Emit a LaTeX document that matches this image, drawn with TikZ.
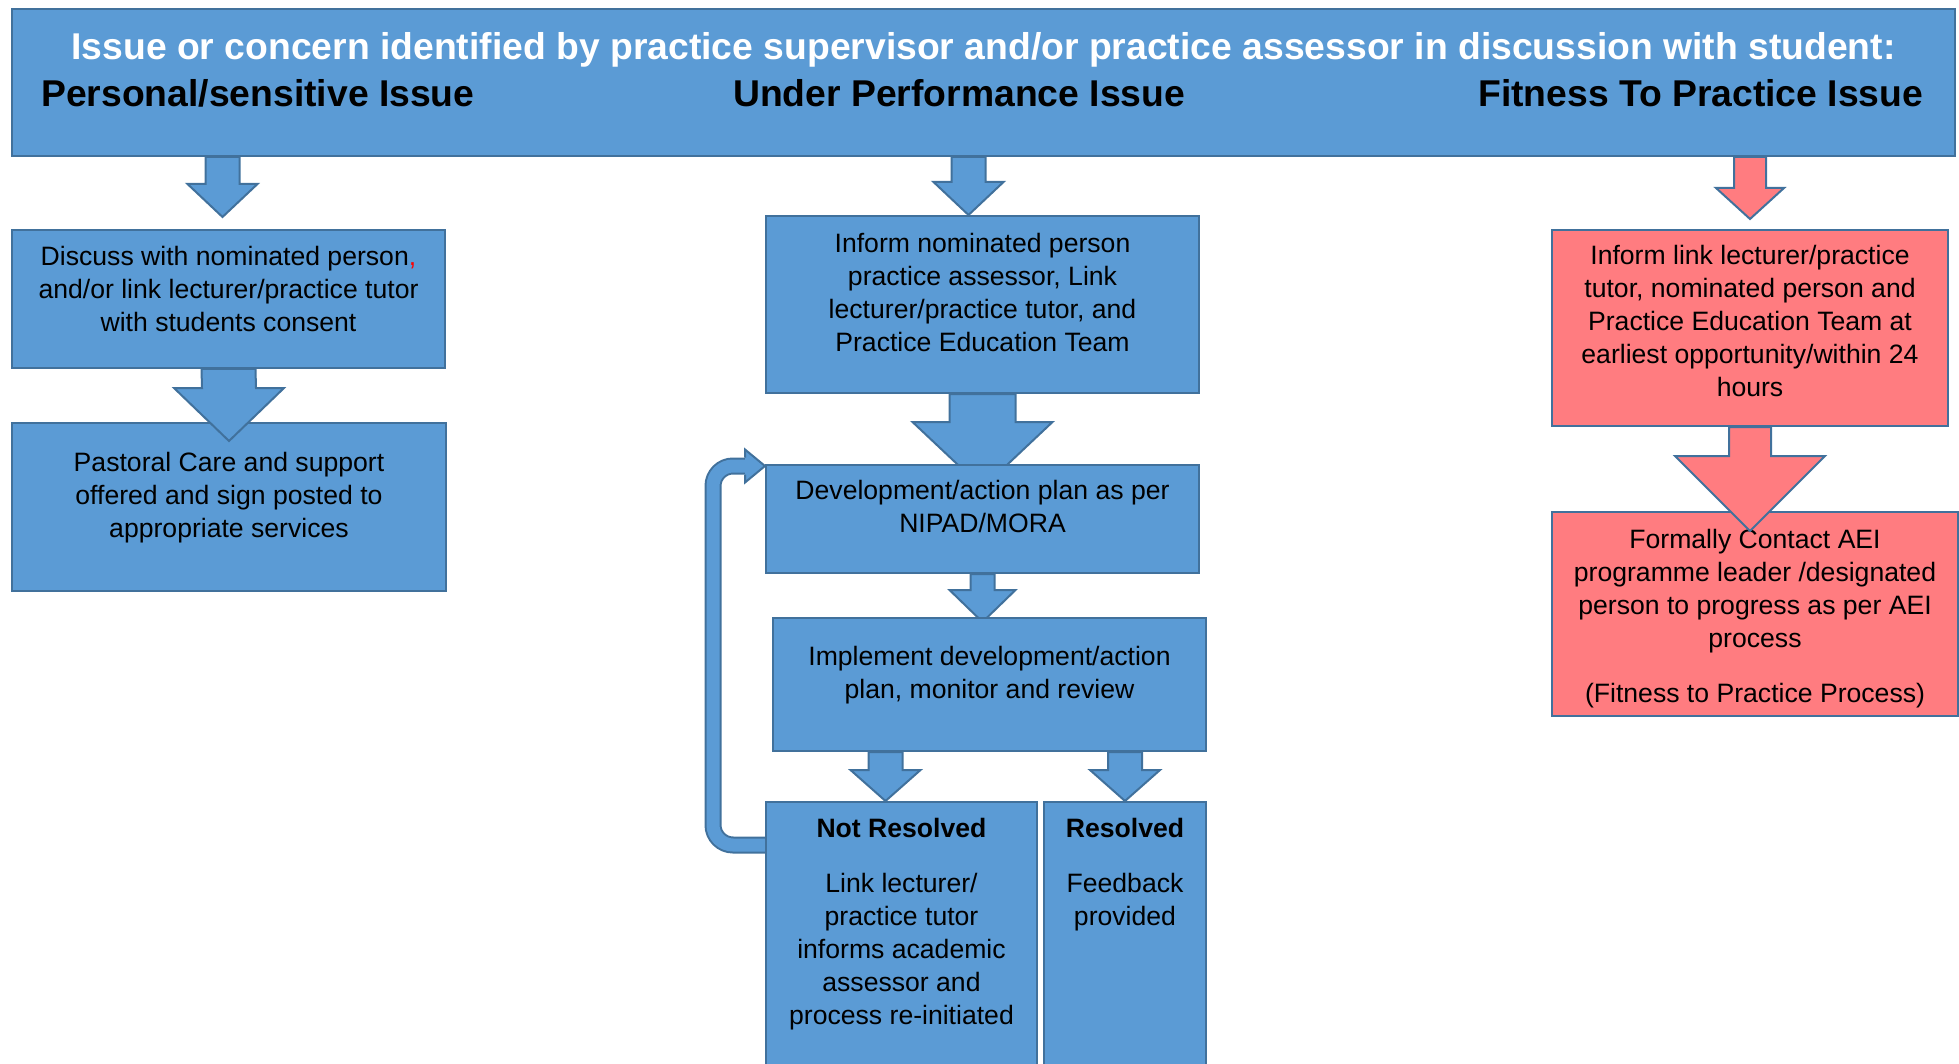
\documentclass[tikz,border=0pt]{standalone}
\usepackage{fontspec}
\setmainfont{Liberation Sans}
\usepackage{tikz}
\usetikzlibrary{positioning, calc, backgrounds}

\definecolor{boxblue}{RGB}{91,155,213}
\definecolor{edgeblue}{RGB}{65,113,156}
\definecolor{boxpink}{RGB}{255,124,128}

\newcommand{\bodysize}{\fontsize{26.6}{33}\selectfont}
\newcommand{\headsize}{\fontsize{37.3}{44}\selectfont\bfseries}

% block arrow: [style]{start}{tip}{shaft half width}{head half width}{head length}
\newcommand{\blockarrow}[6][]{%
  \draw[blockarrow, #1] ($(#2)+(-#4,0)$) -- ($(#3)+(-#4,-#6)$) -- ($(#3)+(-#5,-#6)$) -- (#3)
    -- ($(#3)+(#5,-#6)$) -- ($(#3)+(#4,-#6)$) -- ($(#2)+(#4,0)$) -- cycle;
}

\begin{document}
\begin{tikzpicture}[
    x=1pt, y=-1pt,
    box/.style={rectangle, draw=edgeblue, line width=2pt, fill=boxblue, anchor=north west,
                inner sep=0pt, align=center, font=\bodysize},
    pinkbox/.style={box, fill=boxpink},
    lift/.style={execute at end node={\rule[-#1pt]{0pt}{#1pt}}},
    heading/.style={inner sep=0pt, font=\headsize},
    boxtext/.style={inner sep=0pt, align=center, font=\bodysize, anchor=north},
    blockarrow/.style={draw=edgeblue, fill=boxblue, line width=2pt, line join=miter},
    pinkarrow/.style={fill=boxpink},
    loopback/.style={draw=edgeblue, line width=2pt, double=boxblue, double distance=13pt, rounded corners=20pt}
]
\useasboundingbox (0,0) rectangle (1959,1064);

\node[box, minimum width=1943, minimum height=147] (top) at (11,8) {};
\node[heading, text=white, anchor=base] (title) at ($(top.north)+(0,52)$)
    {Issue or concern identified by practice supervisor and/or practice assessor in discussion with student:};
\node[heading, anchor=base west] (personal) at ($(top.north west)+(30,99)$) {Personal/sensitive Issue};
\node[heading, anchor=base west] (under) at ($(top.north west)+(722,99)$) {Under Performance Issue};
\node[heading, anchor=base west] (fitness) at ($(top.north west)+(1467,99)$) {Fitness To Practice Issue};

% personal / sensitive column
\node[box, lift=20, minimum width=433, minimum height=138] (discuss) at (11,229)
    {Discuss with nominated person{\color{red},}\\and/or link lecturer/practice tutor\\with students consent};
\node[box, lift=24, minimum width=434, minimum height=168] (pastoral) at (11,422)
    {Pastoral Care and support\\offered and sign posted to\\appropriate services};
\coordinate (tipA) at ($(discuss.north)+(-6,-12)$);
\blockarrow{top.south -| tipA}{tipA}{17}{35}{33}
\coordinate (tipD) at ($(pastoral.north)+(0,19)$);
\blockarrow{discuss.south}{tipD}{27}{55}{53}

% under performance column
\node[box, lift=25, minimum width=433, minimum height=177] (inform) at (765,215)
    {Inform nominated person\\practice assessor, Link\\lecturer/practice tutor, and\\Practice Education Team};
\node[box, lift=25, minimum width=433, minimum height=108] (plan) at (765,464)
    {Development/action plan as per\\NIPAD/MORA};
\node[box, lift=25, minimum width=433, minimum height=133] (implement) at (772,617)
    {Implement development/action\\plan, monitor and review};
\node[box, minimum width=271, minimum height=290] (nr) at (765,801) {};
\node[box, minimum width=162, minimum height=290] (res) at (1043,801) {};
\node[boxtext] at ($(nr.north)+(0,17)$)
    {\textbf{Not Resolved}\\[22pt]Link lecturer/\\practice tutor\\informs academic\\assessor and\\process re-initiated};
\node[boxtext] at ($(res.north)+(0,17)$) {\textbf{Resolved}\\[22pt]Feedback\\provided};

\coordinate (tipB) at ($(inform.north)+(-14,0)$);
\blockarrow{top.south -| tipB}{tipB}{17}{35}{33}
\begin{scope}[on background layer]
  \coordinate (tipE) at ($(plan.north)+(0,24)$);
  \blockarrow{inform.south}{tipE}{33}{70}{66}
  \coordinate (tipF) at ($(plan.south |- implement.north)+(0,5)$);
  \blockarrow{plan.south}{tipF}{12}{33}{32}
  \draw[loopback] ($(nr.north west)+(0,44)$) -- ++(-52,0) |- ($(plan.north west)+(-19,2)$);
\end{scope}
\fill[boxblue] ($(plan.north west)+(-20,-14.5)$) -- ($(plan.north west)+(0,2)$) -- ($(plan.north west)+(-20,18.5)$) -- cycle;
\draw[edgeblue, line width=2pt, line join=miter] ($(plan.north west)+(-20,-6.5)$) -- ++(0,-8)
    -- ($(plan.north west)+(0,2)$) -- ($(plan.north west)+(-20,18.5)$) -- ++(0,-8);
\coordinate (tipG) at ($(nr.north)+(-16,0)$);
\blockarrow{implement.south -| tipG}{tipG}{17}{35}{31}
\blockarrow{implement.south -| res.north}{res.north}{17}{35}{31}

% fitness to practice column
\node[pinkbox, lift=15, minimum width=396, minimum height=196] (link) at (1551,229)
    {Inform link lecturer/practice\\tutor, nominated person and\\Practice Education Team at\\earliest opportunity/within 24\\hours};
\node[pinkbox, minimum width=406, minimum height=204] (aei) at (1551,511)
    {\rule{0pt}{28pt}Formally Contact AEI\\programme leader /designated\\person to progress as per AEI\\process\\[22pt](Fitness to Practice Process)};
\coordinate (tipC) at ($(link.north)+(0,-10)$);
\blockarrow[pinkarrow]{top.south -| tipC}{tipC}{16}{34}{31}
\coordinate (tipI) at ($(aei.north -| link.south)+(0,20)$);
\blockarrow[pinkarrow]{link.south}{tipI}{21}{75}{75}

\end{tikzpicture}
\end{document}
